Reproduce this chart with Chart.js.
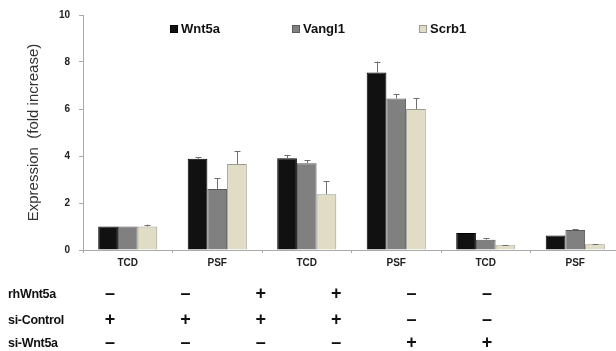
<!DOCTYPE html>
<html><head><meta charset="utf-8">
<script src="https://cdn.jsdelivr.net/npm/chart.js@4"></script>
<style>
html,body{margin:0;padding:0;background:#fff;overflow:hidden;width:616px;height:351px;}
#wrap{position:relative;width:620px;height:351px;}
#legend{position:absolute;top:21px;left:0;font:bold 13px "Liberation Sans",Arial,sans-serif;color:#111;}
#legend span.item{position:absolute;white-space:nowrap;}
#legend span.box{display:inline-block;width:8px;height:8px;margin-right:3px;vertical-align:0px;box-sizing:border-box;}
.rowlab{position:absolute;left:8px;font:bold 12.5px "Liberation Sans Narrow","Liberation Sans",Arial,sans-serif;color:#111;letter-spacing:-0.3px;transform:translateY(-50%);}
.sign{position:absolute;font:bold 18px "Liberation Sans",Arial,sans-serif;color:#111;transform:translate(-50%,-50%);}
</style>
</head><body>
<div id="wrap">
<canvas id="c" width="620" height="351"></canvas>
<div id="legend"></div>
<div id="table"></div>
</div>
<script>
const categories = ['TCD','PSF','TCD','PSF','TCD','PSF'];
const seriesNames = ['Wnt5a','Vangl1','Scrb1'];
const wnt5a = [1.0, 3.88, 3.9, 7.55, 0.72, 0.62];
const wnt5aErr = [0, 0.06, 0.15, 0.47, 0, 0];
const vangl1 = [1.0, 2.6, 3.69, 6.45, 0.44, 0.85];
const vangl1Err = [0, 0.46, 0.12, 0.17, 0.07, 0.03];
const scrb1 = [1.0, 3.66, 2.37, 6.0, 0.2, 0.24];
const scrb1Err = [0.08, 0.56, 0.57, 0.47, 0.02, 0.02];
const yTicks = [0, 2, 4, 6, 8, 10];
const yTitle = 'Expression  (fold increase)';
const rowLabels = ['rhWnt5a', 'si-Control', 'si-Wnt5a'];
const rhWnt5aRow = ['\u2013','\u2013','+','+','\u2013','\u2013'];
const siControlRow = ['+','+','+','+','\u2013','\u2013'];
const siWnt5aRow = ['\u2013','\u2013','\u2013','\u2013','+','+'];

const fills = ['#111111','#808080','#e0dcc5'];
const borders = ['#000000','#5a5a5a','#9a9a90'];

const errPlugin = {
  id: 'errbars',
  afterDatasetsDraw(chart) {
    const ctx = chart.ctx, ys = chart.scales.y;
    ctx.save();
    ctx.strokeStyle = '#707070';
    ctx.lineWidth = 1;
    chart.data.datasets.forEach((ds, di) => {
      const meta = chart.getDatasetMeta(di);
      meta.data.forEach((bar, i) => {
        const e = ds.errors[i];
        if (!e) return;
        const top = ys.getPixelForValue(ds.data[i] + e);
        const x = Math.round(bar.x) + 0.5;
        ctx.beginPath();
        ctx.moveTo(x, bar.y);
        ctx.lineTo(x, top);
        ctx.moveTo(x - 3, Math.round(top) + 0.5);
        ctx.lineTo(x + 3, Math.round(top) + 0.5);
        ctx.stroke();
      });
    });
    ctx.restore();
  }
};

const values = [wnt5a, vangl1, scrb1];
const errs = [wnt5aErr, vangl1Err, scrb1Err];

const chart = new Chart(document.getElementById('c'), {
  type: 'bar',
  data: {
    labels: categories,
    datasets: seriesNames.map((n, i) => ({
      label: n, data: values[i], errors: errs[i],
      backgroundColor: fills[i], borderColor: borders[i], borderWidth: 1,
      categoryPercentage: 0.66, barPercentage: 1.0
    }))
  },
  options: {
    responsive: false, animation: false,
    layout: { padding: { left: 0, right: 0, top: 10, bottom: 76 } },
    plugins: { legend: { display: false }, tooltip: { enabled: false } },
    scales: {
      x: {
        offset: true,
        grid: { display: true, drawOnChartArea: false, drawTicks: true, tickLength: 3, color: '#aaa', offset: true },
        border: { color: '#aaa' },
        ticks: { color: '#222', font: { family: 'Liberation Sans, Arial', size: 10, weight: 'bold' }, padding: 4, maxRotation: 0 },
        afterFit(s) { s.height = 25; }
      },
      y: {
        min: 0, max: 10,
        afterBuildTicks(s) { s.ticks = yTicks.map(v => ({ value: v })); },
        grid: { display: true, drawOnChartArea: false, tickLength: 4, color: '#aaa' },
        border: { color: '#aaa' },
        ticks: { color: '#222', font: { family: 'Liberation Sans, Arial', size: 10, weight: 'bold' }, padding: 9 },
        title: { display: true, text: yTitle, color: '#333', font: { family: 'Liberation Sans, Arial', size: 15 }, padding: { top: 25, bottom: 0 } },
        afterFit(s) { s.width = 83; }
      }
    }
  },
  plugins: [errPlugin]
});

// legend
const legend = document.getElementById('legend');
const legendX = [170, 292, 419];
seriesNames.forEach((n, i) => {
  const it = document.createElement('span');
  it.className = 'item';
  it.style.left = legendX[i] + 'px';
  it.innerHTML = '<span class="box" style="background:' + fills[i] + ';border:1px solid ' + borders[i] + '"></span>' + n;
  legend.appendChild(it);
});

// condition table
const table = document.getElementById('table');
const rows = [rhWnt5aRow, siControlRow, siWnt5aRow];
const rowY = [294, 320, 343];
const signX0 = 110, signStep = 75.4;
rows.forEach((r, ri) => {
  const lab = document.createElement('div');
  lab.className = 'rowlab';
  lab.style.top = rowY[ri] + 'px';
  lab.textContent = rowLabels[ri];
  table.appendChild(lab);
  r.forEach((s, ci) => {
    const d = document.createElement('div');
    d.className = 'sign';
    d.style.left = (signX0 + signStep * ci) + 'px';
    d.style.top = (rowY[ri] - 1) + 'px';
    d.textContent = s;
    table.appendChild(d);
  });
});
</script>
</body></html>
